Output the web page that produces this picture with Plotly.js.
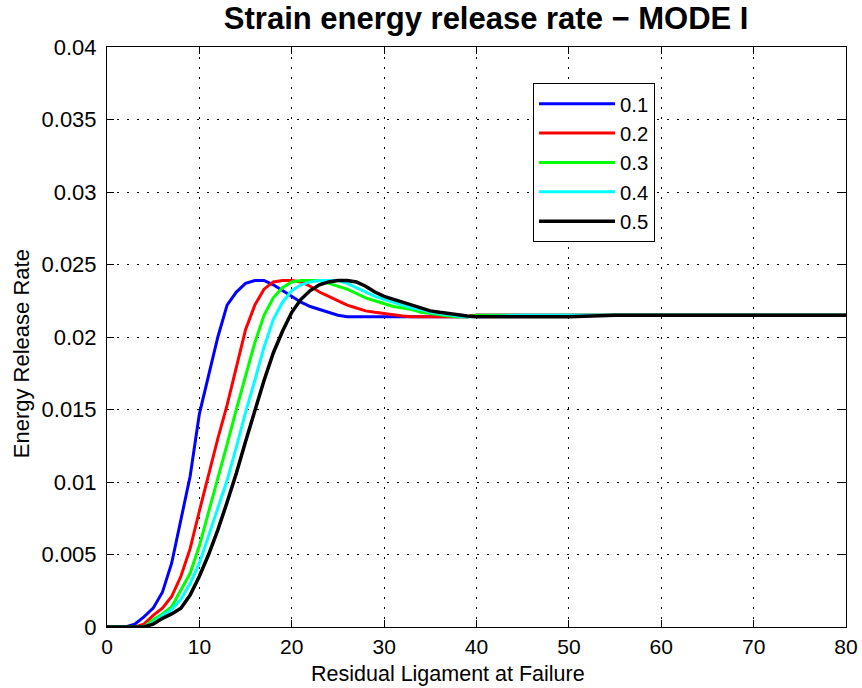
<!DOCTYPE html>
<html>
<head>
<meta charset="utf-8">
<script src="https://cdn.plot.ly/plotly-3.0.1.min.js"></script>
<style>html,body{margin:0;padding:0;background:#fff;}#chart{width:862px;height:688px;}</style>
</head>
<body>
<div id="chart"></div>
<script>
const xVals = [0,1,2,3,4,5,6,7,8,9,10,11,12,13,14,15,16,17,18,19,20,21,22,23,24,25,26,27,28,29,30,31,32,33,34,35,36,37,38,39,40,45,50,55,60,65,70,75,80];
const names = ['0.1','0.2','0.3','0.4','0.5'];
const colors = ['#0000ff','#ff0000','#00ff00','#00ffff','#000000'];
const g01 = [0,0,0,0.0002,0.0007,0.0013,0.0024,0.0044,0.0073,0.0104,0.0147,0.0174,0.0200,0.0222,0.0231,0.0237,0.0239,0.0239,0.0236,0.0232,0.0228,0.0224,0.0221,0.0219,0.0217,0.0215,0.0214,0.0214,0.0214,0.0214,0.0214,0.0214,0.0214,0.0214,0.0214,0.0214,0.0214,0.0214,0.0214,0.0214,0.0215,0.0215,0.0215,0.0215,0.0215,0.0215,0.0215,0.0215,0.0215];
const g02 = [0,0,0,0,0.0002,0.0008,0.0013,0.0021,0.0035,0.0054,0.0080,0.0106,0.0130,0.0153,0.0180,0.0205,0.0222,0.0233,0.0238,0.0239,0.0239,0.0238,0.0235,0.0231,0.0228,0.0225,0.0222,0.0220,0.0218,0.0217,0.0216,0.0215,0.02145,0.0214,0.0214,0.0214,0.0214,0.0214,0.0214,0.0214,0.0215,0.0215,0.0215,0.0215,0.0215,0.0215,0.0215,0.0215,0.0215];
const g03 = [0,0,0,0,0,0.0005,0.0009,0.0014,0.0025,0.0037,0.0056,0.0079,0.0102,0.0126,0.0150,0.0173,0.0196,0.0215,0.0227,0.0234,0.0238,0.0239,0.0239,0.0239,0.0237,0.0235,0.0233,0.0230,0.0227,0.0225,0.0223,0.0221,0.0220,0.0219,0.0217,0.0216,0.0215,0.02145,0.0214,0.0214,0.0215,0.0215,0.0215,0.0215,0.0215,0.0215,0.0215,0.0215,0.0215];
const g04 = [0,0,0,0,0,0.0003,0.0008,0.0012,0.0019,0.0030,0.0044,0.0063,0.0082,0.0101,0.0124,0.0148,0.0170,0.0193,0.0212,0.0224,0.0232,0.0236,0.0238,0.0239,0.0239,0.0239,0.0237,0.0234,0.0231,0.0228,0.0226,0.0224,0.0222,0.0220,0.0219,0.0217,0.0216,0.0215,0.02145,0.0214,0.0214,0.0215,0.0215,0.0215,0.0215,0.0215,0.0215,0.0215,0.0215];
const g05 = [0,0,0,0,0,0.0002,0.0006,0.0009,0.0013,0.0022,0.0035,0.0050,0.0067,0.0086,0.0106,0.0128,0.0150,0.0170,0.0189,0.0204,0.0217,0.0226,0.0232,0.0236,0.0238,0.0239,0.0239,0.0238,0.0235,0.0231,0.0228,0.0226,0.0224,0.0222,0.0220,0.0218,0.0217,0.0216,0.0215,0.02145,0.0214,0.0214,0.0214,0.0215,0.0215,0.0215,0.0215,0.0215,0.0215];
const series = [g01,g02,g03,g04,g05];
const widths = [3,3,3,3,3.5];
const xTicks = [0,10,20,30,40,50,60,70,80];
const yTicks = [0,0.005,0.01,0.015,0.02,0.025,0.03,0.035,0.04];
const yTickText = ['0','0.005','0.01','0.015','0.02','0.025','0.03','0.035','0.04'];
const titleText = 'Strain energy release rate − MODE I';
const xTitle = 'Residual Ligament at Failure';
const yTitle = 'Energy Release Rate';

const traces = series.map((s,i)=>({
  x: xVals, y: s, type:'scatter', mode:'lines', name: names[i],
  line:{color:colors[i], width:widths[i]}
}));

const FONT = 'Liberation Sans, Arial, sans-serif';
const layout = {
  width:862, height:688,
  margin:{l:107, r:16, t:47, b:61},
  paper_bgcolor:'#fff', plot_bgcolor:'#fff',
  font:{family:FONT, size:22, color:'#000'},
  title:{text:'<b>'+titleText+'</b>', font:{family:FONT, size:31, color:'#000'}, x:0.564, xanchor:'center', y:0.974, yanchor:'middle'},
  xaxis:{range:[0,80], tickvals:xTicks, ticktext:xTicks.map(String), ticks:'inside', ticklen:7, tickcolor:'#000',
    showline:true, linecolor:'#000', linewidth:1, mirror:'ticks', showgrid:true, gridcolor:'#000', gridwidth:1, griddash:'2px,8px',
    zeroline:false, tickfont:{size:21}, ticklabelstandoff:1},
  yaxis:{range:[0,0.04], tickvals:yTicks, ticktext:yTickText, ticks:'inside', ticklen:7, tickcolor:'#000',
    showline:true, linecolor:'#000', linewidth:1, mirror:'ticks', showgrid:true, gridcolor:'#000', gridwidth:1, griddash:'2px,8px',
    zeroline:false, tickfont:{size:22}, ticklabelstandoff:5},
  annotations:[
    {text:xTitle, xref:'paper', yref:'paper', x:0.4608, y:0, xanchor:'center', yanchor:'middle', yshift:-47, showarrow:false, font:{size:21.5}},
    {text:yTitle, xref:'paper', yref:'paper', x:-0.1164, y:0.472, xanchor:'center', yanchor:'middle', textangle:-90, showarrow:false, font:{size:22}}
  ],
  legend:{x:0.5765, y:0.938, xanchor:'left', yanchor:'top', bgcolor:'#fff', bordercolor:'#000', borderwidth:1,
    font:{size:20.3}, itemwidth:76},
  showlegend:true
};
Plotly.newPlot('chart', traces, layout, {displayModeBar:false, staticPlot:true});
</script>
</body>
</html>
